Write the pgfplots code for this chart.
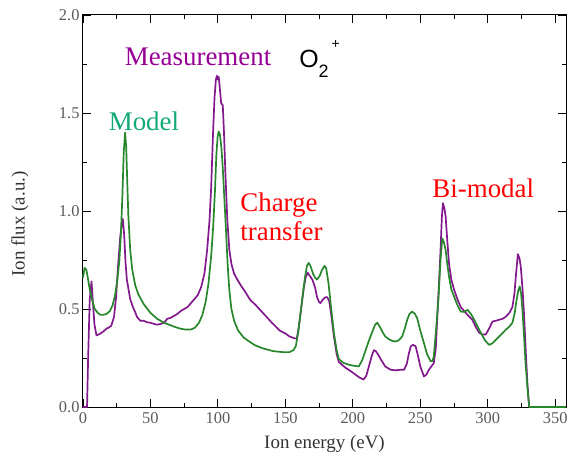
\documentclass[border=0pt]{standalone}
\usepackage{pgfplots}
\pgfplotsset{compat=1.18}
\usepackage{fontspec}
\setmainfont{Liberation Serif}
\newfontfamily\arialf{Liberation Sans}
\usetikzlibrary{calc}
\definecolor{measline}{RGB}{130,25,140}
\definecolor{modline}{RGB}{40,135,45}
\definecolor{meastext}{RGB}{150,0,150}
\definecolor{modtext}{RGB}{20,170,120}
\definecolor{ticklab}{RGB}{90,90,90}
\begin{document}
\begin{tikzpicture}
\begin{axis}[
  name=ax,
  width=483bp, height=392bp, scale only axis,
  xmin=0, xmax=358, ymin=0, ymax=2.0,
  xtick={0,50,...,350}, ytick={0,0.5,...,2.0},
  minor x tick num=1, minor y tick num=1,
  major tick length=8bp, minor tick length=4bp,
  tick align=inside,
  axis line style={line width=1bp},
  every tick/.style={black, line width=0.9bp},
  tick label style={font=\fontsize{16.5}{16.5}\selectfont, text=ticklab},
  /pgf/number format/assume math mode=true,
  yticklabel style={/pgf/number format/.cd, fixed, fixed zerofill, precision=1},
  xticklabel style={yshift=-2bp},
  clip=false,
]
\addplot[measline, line width=1.7bp, line join=round] coordinates {
(0,0)(3,0)(3.8,0.25)(5,0.55)(6.3,0.64)(7.2,0.55)(8.5,0.42)(10,0.365)(12.5,0.373)(15,0.385)(17.5,0.40)(19,0.405)(21,0.415)(23,0.46)(24.5,0.56)(26,0.72)(27.5,0.86)(28.8,0.94)(29.5,0.96)(30.5,0.88)(31.5,0.74)(32.5,0.65)(35,0.55)(37,0.51)(38.75,0.483)(40,0.46)(42.5,0.44)(45,0.44)(47.5,0.432)(50,0.43)(52.5,0.424)(55,0.42)(57.5,0.424)(60,0.43)(62.5,0.45)(65,0.455)(67.5,0.465)(70,0.475)(72.5,0.49)(75,0.50)(77.5,0.51)(80,0.53)(82.5,0.55)(85,0.57)(87.5,0.61)(90,0.68)(92,0.80)(93.75,0.95)(95,1.12)(96.4,1.40)(97.5,1.58)(98.5,1.67)(99.3,1.69)(100,1.67)(100.6,1.685)(101.5,1.62)(102.4,1.55)(103.6,1.54)(104.5,1.40)(105.5,1.20)(107,0.95)(108.5,0.80)(110,0.73)(112,0.68)(114.4,0.65)(117,0.62)(120,0.59)(124,0.546)(128,0.52)(132,0.49)(136,0.46)(140,0.43)(143,0.41)(145.7,0.39)(150,0.375)(153,0.36)(157,0.35)(158.5,0.35)(160,0.41)(162,0.52)(163.7,0.61)(165,0.66)(166.5,0.685)(168,0.67)(170,0.65)(172,0.61)(173.5,0.56)(175,0.535)(176,0.53)(178,0.55)(179.7,0.56)(181,0.56)(182.5,0.54)(184,0.47)(186,0.36)(188,0.27)(189.6,0.23)(192,0.215)(194.6,0.20)(198,0.185)(202,0.165)(205,0.15)(208,0.14)(210,0.16)(212,0.21)(214,0.26)(215.6,0.29)(217,0.285)(219,0.265)(221,0.24)(224,0.207)(228,0.19)(231.7,0.187)(235,0.19)(238,0.19)(240,0.22)(241.6,0.275)(243,0.31)(244.5,0.317)(246.5,0.31)(248,0.27)(250,0.207)(252.7,0.156)(254.5,0.165)(256.4,0.19)(258,0.205)(260,0.224)(261.5,0.30)(262.6,0.46)(264,0.65)(265,0.80)(266,0.97)(266.8,1.04)(268,1.01)(268.8,0.97)(270,0.85)(271.3,0.73)(273,0.65)(275,0.60)(277.5,0.55)(280,0.51)(282.5,0.49)(285,0.47)(288.6,0.445)(291,0.41)(293.5,0.38)(296,0.37)(298.5,0.37)(301,0.40)(303.5,0.436)(306,0.44)(308.4,0.445)(311,0.45)(313.3,0.46)(316,0.48)(318.3,0.51)(319.8,0.58)(320.8,0.665)(322.3,0.78)(323.5,0.76)(324.5,0.715)(325.8,0.60)(327,0.46)(328.2,0.28)(329.4,0.12)(330.7,0)(340,0)
};
\addplot[modline, line width=1.7bp, line join=round] coordinates {
(0,0.66)(1.2,0.71)(2.5,0.70)(3.8,0.65)(5,0.60)(7,0.54)(8.75,0.50)(11,0.48)(13,0.47)(15,0.47)(17.5,0.475)(20,0.49)(22,0.52)(23.75,0.57)(25.5,0.65)(27,0.75)(28.2,0.90)(29.2,1.08)(30.2,1.30)(31.2,1.40)(32,1.33)(32.8,1.15)(33.6,0.98)(35,0.80)(36.5,0.70)(38.75,0.62)(41,0.575)(45,0.525)(50,0.48)(55,0.45)(60,0.43)(67.5,0.41)(72,0.40)(76,0.395)(80,0.395)(83,0.405)(86,0.43)(88.5,0.47)(91,0.54)(93,0.63)(95,0.77)(96.5,0.92)(97.8,1.10)(98.8,1.28)(99.8,1.38)(100.6,1.405)(101.5,1.39)(102.5,1.33)(103.6,1.22)(104.8,1.06)(106,0.90)(107.2,0.73)(108.4,0.60)(110,0.50)(112,0.44)(115,0.39)(119,0.355)(123,0.335)(127.5,0.315)(133,0.30)(141,0.285)(148,0.28)(153,0.28)(156,0.29)(157.7,0.31)(159.5,0.38)(161.3,0.48)(163,0.58)(164.5,0.66)(166,0.72)(167.3,0.735)(168.6,0.72)(170.5,0.68)(172,0.66)(173.5,0.65)(175.5,0.67)(177.2,0.70)(179,0.72)(180.2,0.71)(182,0.63)(184,0.50)(186,0.377)(188,0.29)(189.6,0.245)(193,0.225)(197,0.216)(201,0.21)(204.5,0.207)(207,0.24)(209.5,0.29)(212,0.34)(214.5,0.385)(216.5,0.42)(218,0.43)(220,0.41)(221.8,0.385)(224,0.36)(226.7,0.346)(229,0.338)(231.7,0.334)(234,0.34)(236.6,0.36)(238.5,0.40)(240.3,0.445)(242,0.475)(244,0.487)(246,0.475)(247.7,0.453)(250,0.39)(252.7,0.326)(255,0.27)(257.7,0.233)(259,0.235)(260,0.258)(261.5,0.38)(263.4,0.547)(265,0.75)(266.3,0.86)(267.5,0.84)(268.8,0.80)(270,0.73)(271.3,0.665)(273,0.60)(275,0.564)(277.5,0.52)(280,0.487)(282.5,0.485)(285,0.496)(287.5,0.475)(290,0.445)(292.5,0.41)(295,0.377)(298,0.34)(301,0.317)(303.5,0.325)(306,0.343)(310,0.37)(313.3,0.394)(316,0.41)(318.3,0.43)(320,0.48)(321,0.53)(322.5,0.59)(323.7,0.615)(324.7,0.58)(325.7,0.496)(327,0.35)(328,0.224)(329.4,0.10)(330.7,0)(358,0)
};
\node[text=meastext, font=\fontsize{27}{27}\selectfont] at (axis cs:85.3,1.786) {Measurement};
\node[text=modtext, font=\fontsize{27}{27}\selectfont] at (axis cs:45.2,1.46) {Model};
\node[text=red, font=\fontsize{27}{29}\selectfont, align=left, anchor=west, inner sep=0pt] at (axis cs:116.5,0.97) {Charge\\transfer};
\node[text=red, font=\fontsize{27}{27}\selectfont] at (axis cs:296.7,1.117) {Bi-modal};
\node[font=\fontsize{25}{25}\arialf, anchor=west, inner sep=0pt] at (axis cs:160.2,1.776) {O\raisebox{-0.42em}{\fontsize{18}{18}\arialf 2}\hspace{0.12em}\raisebox{0.75em}{\fontsize{14}{14}\arialf +}};
\end{axis}
\node[rotate=90, text=black!80, font=\fontsize{19}{19}\selectfont] at ($(ax.south west)+(-63bp,183bp)$) {Ion flux (a.u.)};
\node[text=black!80, font=\fontsize{19}{19}\selectfont] at ($(ax.south)+(0,-37bp)$) {Ion energy (eV)};
\pgfresetboundingbox
\path[use as bounding box] ($(ax.south west)+(-83bp,-55bp)$) rectangle ($(ax.north east)+(1bp,15bp)$);
\end{tikzpicture}
\end{document}
